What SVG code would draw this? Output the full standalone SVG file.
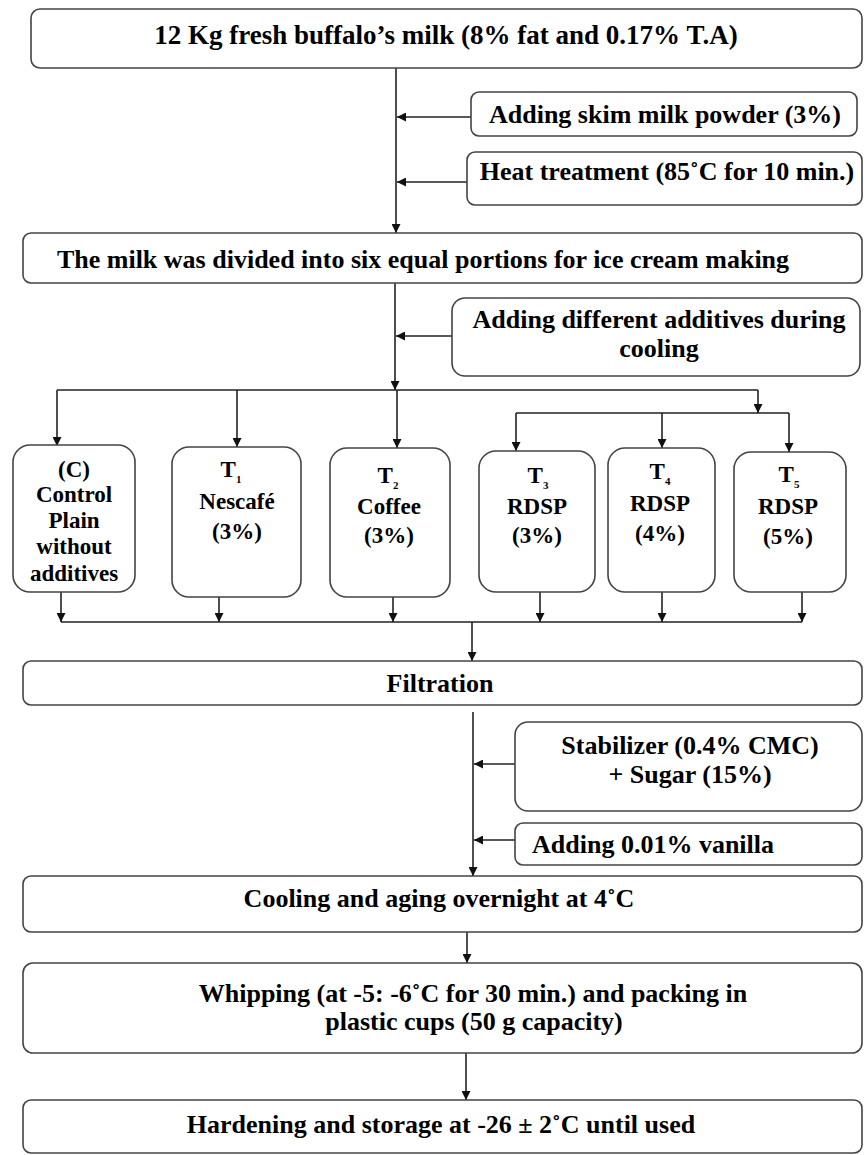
<svg xmlns="http://www.w3.org/2000/svg" width="867" height="1155" viewBox="0 0 867 1155">
<style>
.box{fill:#fff;stroke:#444;stroke-width:1.6}
.t{font-family:"Liberation Serif","Times New Roman",serif;font-weight:bold;fill:#000;text-anchor:middle}
.big{font-size:26px}
.sm{font-size:23px}
.sub{font-size:11px}
.ln{fill:none;stroke:#222;stroke-width:1.6}
.ar{fill:none;stroke:#222;stroke-width:1.6;marker-end:url(#ah)}
</style>
<defs>
<marker id="ah" markerUnits="userSpaceOnUse" markerWidth="9" markerHeight="9" viewBox="0 0 10 10" refX="10" refY="5" orient="auto">
<path d="M0,0 L10,5 L0,10 z" fill="#111"/>
</marker>
</defs>
<rect width="867" height="1155" fill="#fff"/>

<g id="connectors">
<path class="ar" d="M396,68 V233"/>
<path class="ar" d="M471,117 H397"/>
<path class="ar" d="M467,182 H397"/>
<path class="ar" d="M395,283 V390"/>
<path class="ar" d="M452,336 H396"/>
<path class="ln" d="M57,390 H758"/>
<path class="ar" d="M57,390 V446"/>
<path class="ar" d="M237,390 V447"/>
<path class="ar" d="M397,390 V448"/>
<path class="ar" d="M758,390 V413"/>
<path class="ln" d="M516,413 H789"/>
<path class="ar" d="M516,413 V451"/>
<path class="ar" d="M662,413 V448"/>
<path class="ar" d="M789,413 V452"/>
<path class="ar" d="M61,592 V622"/>
<path class="ar" d="M219,597 V622"/>
<path class="ar" d="M393,597 V622"/>
<path class="ar" d="M540,592 V622"/>
<path class="ar" d="M662,592 V622"/>
<path class="ar" d="M802,592 V622"/>
<path class="ln" d="M61,622 H802"/>
<path class="ar" d="M472,622 V661"/>
<path class="ar" d="M473,712 V876"/>
<path class="ar" d="M515,764 H474"/>
<path class="ar" d="M515,840 H474"/>
<path class="ar" d="M467,932 V963"/>
<path class="ar" d="M466,1053 V1100"/>
</g>

<g id="n-milk">
<rect class="box" x="31" y="9" width="831" height="59" rx="9"/>
<text class="t" x="446" y="44" font-size="27">12 Kg fresh buffalo’s milk (8% fat and 0.17% T.A)</text>
</g>
<g id="n-skim">
<rect class="box" x="471" y="92" width="386" height="44" rx="8"/>
<text class="t big" x="665" y="123">Adding skim milk powder (3%)</text>
</g>
<g id="n-heat">
<rect class="box" x="467" y="152" width="395" height="53" rx="8"/>
<text class="t big" x="667" y="180">Heat treatment (85˚C for 10 min.)</text>
</g>
<g id="n-divide">
<rect class="box" x="23" y="233" width="839" height="50" rx="8"/>
<text class="t big" x="423" y="268">The milk was divided into six equal portions for ice cream making</text>
</g>
<g id="n-additives">
<rect class="box" x="452" y="298" width="408" height="78" rx="13"/>
<text class="t big" x="659" y="328">Adding different additives during</text>
<text class="t big" x="659" y="357">cooling</text>
</g>
<g id="n-c">
<rect class="box" x="13" y="445" width="122" height="147" rx="17"/>
<text class="t sm" x="74" y="477">(C)</text>
<text class="t sm" x="74" y="502">Control</text>
<text class="t sm" x="74" y="528">Plain</text>
<text class="t sm" x="74" y="554">without</text>
<text class="t sm" x="74" y="581">additives</text>
</g>
<g id="n-t1">
<rect class="box" x="172" y="447" width="129" height="150" rx="17"/>
<text class="t sm" x="231" y="477">T<tspan class="sub" dy="6">1</tspan></text>
<text class="t sm" x="237" y="509">Nescafé</text>
<text class="t sm" x="237" y="539">(3%)</text>
</g>
<g id="n-t2">
<rect class="box" x="330" y="448" width="120" height="149" rx="17"/>
<text class="t sm" x="388" y="483">T<tspan class="sub" dy="6">2</tspan></text>
<text class="t sm" x="389" y="514">Coffee</text>
<text class="t sm" x="389" y="543">(3%)</text>
</g>
<g id="n-t3">
<rect class="box" x="479" y="451" width="116" height="141" rx="17"/>
<text class="t sm" x="538" y="483">T<tspan class="sub" dy="6">3</tspan></text>
<text class="t sm" x="537" y="514">RDSP</text>
<text class="t sm" x="537" y="543">(3%)</text>
</g>
<g id="n-t4">
<rect class="box" x="608" y="448" width="107" height="144" rx="17"/>
<text class="t sm" x="660" y="479">T<tspan class="sub" dy="6">4</tspan></text>
<text class="t sm" x="660" y="511">RDSP</text>
<text class="t sm" x="660" y="541">(4%)</text>
</g>
<g id="n-t5">
<rect class="box" x="734" y="452" width="112" height="140" rx="17"/>
<text class="t sm" x="789" y="482">T<tspan class="sub" dy="6">5</tspan></text>
<text class="t sm" x="788" y="514">RDSP</text>
<text class="t sm" x="788" y="544">(5%)</text>
</g>
<g id="n-filtration">
<rect class="box" x="23" y="661" width="839" height="44" rx="8"/>
<text class="t big" x="440" y="692">Filtration</text>
</g>
<g id="n-stabilizer">
<rect class="box" x="515" y="722" width="347" height="89" rx="13"/>
<text class="t big" x="690" y="754">Stabilizer (0.4% CMC)</text>
<text class="t big" x="690" y="783">+ Sugar (15%)</text>
</g>
<g id="n-vanilla">
<rect class="box" x="515" y="823" width="347" height="42" rx="8"/>
<text class="t big" x="532" y="853" style="text-anchor:start">Adding 0.01% vanilla</text>
</g>
<g id="n-cooling">
<rect class="box" x="23" y="876" width="839" height="56" rx="8"/>
<text class="t big" x="439" y="907">Cooling and aging overnight at 4˚C</text>
</g>
<g id="n-whipping">
<rect class="box" x="23" y="963" width="839" height="90" rx="10"/>
<text class="t big" x="473" y="1002">Whipping (at -5: -6˚C for 30 min.) and packing in</text>
<text class="t big" x="474" y="1030">plastic cups (50 g capacity)</text>
</g>
<g id="n-hardening">
<rect class="box" x="23" y="1100" width="839" height="53" rx="8"/>
<text class="t big" x="441" y="1133">Hardening and storage at -26 ± 2˚C until used</text>
</g>
</svg>
